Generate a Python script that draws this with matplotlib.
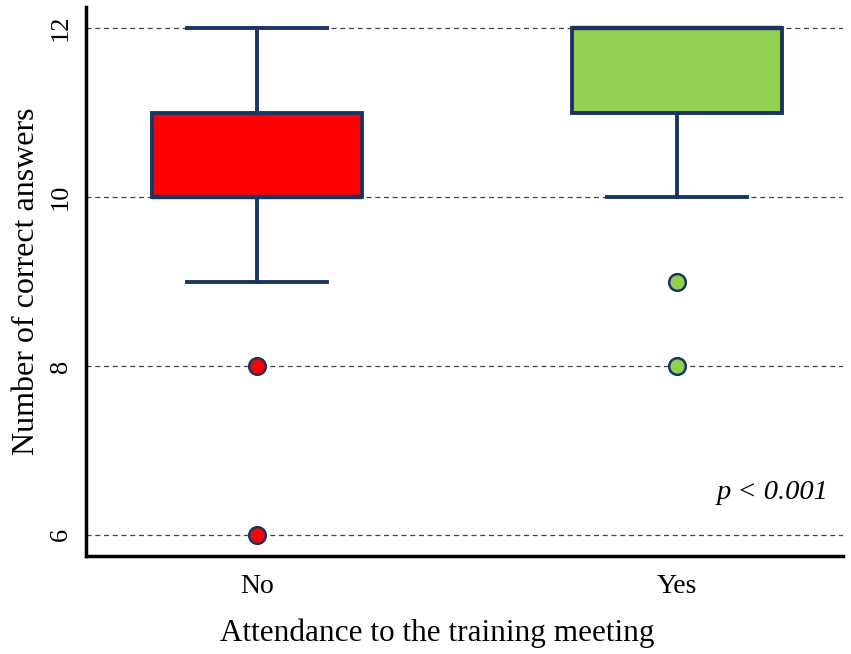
import numpy as np
import matplotlib.pyplot as plt

# ---------- Data ----------
groups   = ["No", "Yes"]
whislo   = [9, 10]
q1       = [10, 11]
median   = [10, 12]
q3       = [11, 12]
whishi   = [12, 12]
fliers   = [[8, 6], [9, 8]]
colors   = ["#FF0000", "#92D050"]
edge     = "#1B3563"
yticks   = [6, 8, 10, 12]

plt.rcParams["font.family"] = ["Liberation Serif", "DejaVu Serif"]

fig = plt.figure(figsize=(8.51, 6.54), dpi=100)
ax = fig.add_axes([86 / 851, 98 / 654, (843 - 86) / 851, (647 - 98) / 654])

stats = []
for i, g in enumerate(groups):
    stats.append({"label": g, "whislo": whislo[i], "q1": q1[i], "med": median[i],
                  "q3": q3[i], "whishi": whishi[i], "fliers": fliers[i]})

ax.yaxis.grid(True, linestyle=(0, (4, 3)), color="#444444", linewidth=0.9, zorder=0)
ax.set_axisbelow(True)

bp = ax.bxp(stats, positions=[1, 2], widths=0.5, patch_artist=True,
            showfliers=True, zorder=3,
            boxprops=dict(edgecolor=edge, linewidth=2.8),
            medianprops=dict(color=edge, linewidth=3.2),
            whiskerprops=dict(color=edge, linewidth=2.8),
            capprops=dict(color=edge, linewidth=2.8),
            capwidths=0.333)
for patch, c in zip(bp["boxes"], colors):
    patch.set_facecolor(c)
for fl, c in zip(bp["fliers"], colors):
    fl.set(marker="o", markerfacecolor=c, markeredgecolor=edge,
           markersize=12, markeredgewidth=1.8, zorder=4)

ax.set_xlim(0.593, 2.395)
ax.set_ylim(5.75, 12.25)
ax.set_yticks(yticks)
ax.set_yticklabels([str(t) for t in yticks], rotation=90, va="center", fontsize=19)
ax.set_xticks([1, 2])
ax.set_xticklabels(groups, fontsize=20)
ax.tick_params(axis="both", length=0)
ax.tick_params(axis="x", pad=13)
ax.tick_params(axis="y", pad=10)

for s in ["top", "right"]:
    ax.spines[s].set_visible(False)
for s in ["left", "bottom"]:
    ax.spines[s].set_linewidth(2.5)
    ax.spines[s].set_color("black")

ax.set_ylabel("Number of correct answers", fontsize=23)
ax.yaxis.set_label_coords(-0.06, 0.5)
ax.set_xlabel("Attendance to the training meeting", fontsize=22.5)
ax.xaxis.set_label_coords((437 - 86) / 757, -0.113)

ax.text(2.36, 6.5, "p < 0.001", style="italic", fontsize=20.5, ha="right", va="center")

fig.savefig("out.png", dpi=100)
